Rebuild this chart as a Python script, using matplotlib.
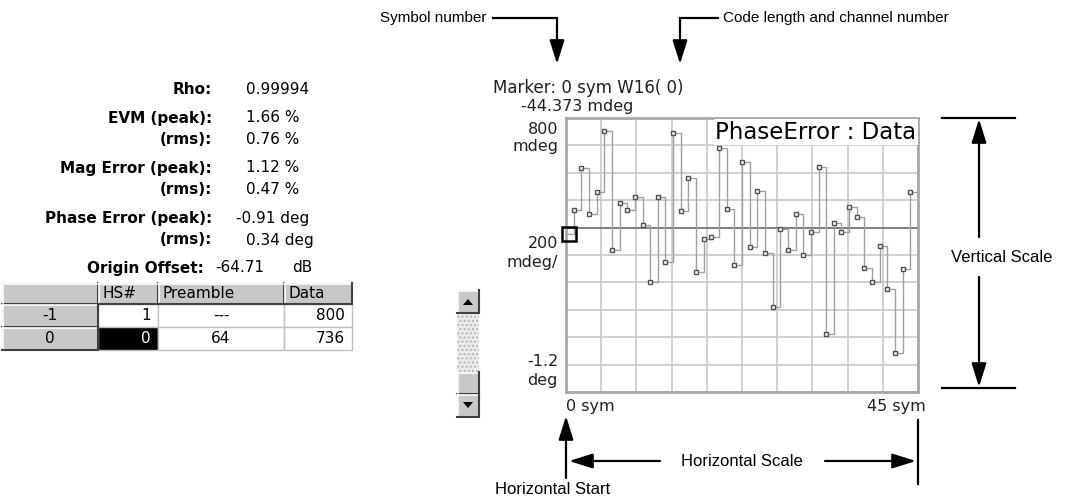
import numpy as np
import matplotlib.pyplot as plt
from matplotlib.patches import Rectangle, Polygon

# phase error per symbol, mdeg
symbols = np.arange(46)
phase_err = np.array([-44, 130, 438, 98, 257, 702, -166, 183, 130, 225,
                      17, -399, 225, -249, 690, 120, 364, -325, -81, -71,
                      584, 139, -271, 477, -144, 267, -186, -579, -10, -166,
                      98, -198, -29, 445, -780, 34, -29, 152, 78, -293,
                      -399, -134, -450, -917, -303, 257])

stat_labels = ['Rho:', 'EVM (peak):', '(rms):', 'Mag Error (peak):', '(rms):',
               'Phase Error (peak):', '(rms):']
stat_values = ['0.99994', '1.66 %', '0.76 %', '1.12 %', '0.47 %',
               '-0.91 deg', '0.34 deg']
origin_offset = '-64.71'

table_header = ['', 'HS#', 'Preamble', 'Data']
table_rows = [['-1', '1', '---', '800'],
              ['0', '0', '64', '736']]

W, H = 1066, 504
sans = ['Liberation Sans', 'DejaVu Sans']
ui = ['DejaVu Sans']


def button(ax, x0, y0, w, h, face='#c8c8c8'):
    ax.add_patch(Rectangle((x0, y0), w, h, fc=face, ec='none'))
    ax.plot([x0, x0 + w], [y0 + 0.5, y0 + 0.5], color='white', lw=1.2)
    ax.plot([x0 + 0.5, x0 + 0.5], [y0, y0 + h], color='white', lw=1.2)
    ax.plot([x0, x0 + w], [y0 + h - 0.5, y0 + h - 0.5], color='#404040', lw=1.5)
    ax.plot([x0 + w - 0.5, x0 + w - 0.5], [y0, y0 + h], color='#404040', lw=1.5)


def arrow(ax, tail, tip):
    ax.annotate('', xy=tip, xytext=tail,
                arrowprops=dict(arrowstyle='-|>,head_length=0.8,head_width=0.25',
                                mutation_scale=18, lw=1.6, color='black',
                                shrinkA=0, shrinkB=0))


fig = plt.figure(figsize=(W / 100, H / 100), dpi=100)

# overlay in pixel coords for the panel, labels and callouts
ov = fig.add_axes([0, 0, 1, 1])
ov.set_xlim(0, W)
ov.set_ylim(H, 0)
ov.axis('off')

# measurement summary
ys = [89, 118, 139, 168, 190, 219, 240]
for lab, val, y in zip(stat_labels, stat_values, ys):
    ov.text(212, y, lab, ha='right', va='center', fontsize=11,
            fontweight='bold', family=ui)
    xv = 236 if val.startswith('-') else 246
    ov.text(xv, y, val, ha='left', va='center', fontsize=11, family=ui)
ov.text(204, 268, 'Origin Offset:', ha='right', va='center', fontsize=11,
        fontweight='bold', family=ui)
ov.text(215, 268, origin_offset, ha='left', va='center', fontsize=11, family=ui)
ov.text(292, 268, 'dB', ha='left', va='center', fontsize=11, family=ui)

# table
col_x = [2, 98, 158, 284, 352]
row_y = [283, 304, 327, 350]
for j, txt in enumerate(table_header):
    button(ov, col_x[j], row_y[0], col_x[j + 1] - col_x[j], row_y[1] - row_y[0])
    ov.text(col_x[j] + 5, (row_y[0] + row_y[1]) / 2, txt, ha='left',
            va='center', fontsize=11, family=ui)
for i, row in enumerate(table_rows):
    y0, y1 = row_y[i + 1], row_y[i + 2]
    ym = (y0 + y1) / 2
    button(ov, col_x[0], y0, col_x[1] - col_x[0], y1 - y0)
    ov.text((col_x[0] + col_x[1]) / 2, ym, row[0], ha='center', va='center',
            fontsize=11, family=ui)
    for j in range(1, 4):
        sel = (i == 1 and j == 1)
        ov.add_patch(Rectangle((col_x[j], y0), col_x[j + 1] - col_x[j], y1 - y0,
                               fc='black' if sel else 'white', ec='#c0c0c0', lw=1))
        if j == 2:
            ov.text((col_x[j] + col_x[j + 1]) / 2, ym, row[j], ha='center',
                    va='center', fontsize=11, family=ui)
        else:
            ov.text(col_x[j + 1] - 7, ym, row[j], ha='right', va='center',
                    fontsize=11, family=ui, color='white' if sel else 'black')

# scroll bar
ov.add_patch(Rectangle((457, 313), 22, 59, fc='#ececec', ec='#b4b4b4', hatch='....',
                       lw=0))
button(ov, 457, 290, 22, 23)
button(ov, 457, 372, 22, 22)
button(ov, 457, 394, 22, 23)
ov.add_patch(Polygon([[463, 305], [473, 305], [468, 299]], closed=True, fc='black'))
ov.add_patch(Polygon([[463, 402], [473, 402], [468, 408]], closed=True, fc='black'))

# marker readout and axis labels
ov.text(493, 88, 'Marker: 0 sym W16( 0)', ha='left', va='center', fontsize=12,
        family=ui, color='#202020')
ov.text(521, 106, '-44.373 mdeg', ha='left', va='center', fontsize=11.5,
        family=ui, color='#202020')
for txt, y in [('800', 130), ('mdeg', 147), ('200', 244), ('mdeg/', 262),
               ('-1.2', 361), ('deg', 380)]:
    ov.text(558, y, txt, ha='right', va='center', fontsize=11.5, family=ui,
            color='#202020')
ov.text(566, 406, '0 sym', ha='left', va='center', fontsize=11.5, family=ui,
        color='#202020')
ov.text(926, 406, '45 sym', ha='right', va='center', fontsize=11.5, family=ui,
        color='#202020')

# callouts
ov.text(487, 18, 'Symbol number', ha='right', va='center', fontsize=11, family=sans)
ov.plot([493, 557], [18, 18], color='black', lw=1.6)
arrow(ov, (557, 18), (557, 64))
ov.text(723, 18, 'Code length and channel number', ha='left', va='center',
        fontsize=11, family=sans)
ov.plot([680, 718], [18, 18], color='black', lw=1.6)
arrow(ov, (680, 18), (680, 64))

ov.plot([942, 1015], [118, 118], color='black', lw=1.6)
ov.plot([942, 1015], [388, 388], color='black', lw=1.6)
arrow(ov, (979, 237), (979, 119))
arrow(ov, (979, 277), (979, 387))
ov.text(1002, 257, 'Vertical Scale', ha='center', va='center', fontsize=12,
        family=sans)

arrow(ov, (566, 478), (566, 416))
ov.text(553, 490, 'Horizontal Start', ha='center', va='center', fontsize=12,
        family=sans)
ov.plot([918, 918], [420, 484], color='black', lw=1.6)
arrow(ov, (660, 461), (569, 461))
arrow(ov, (825, 461), (916, 461))
ov.text(742, 461, 'Horizontal Scale', ha='center', va='center', fontsize=12,
        family=sans)

# trace
ax = fig.add_axes([566 / W, 1 - 392 / H, 352 / W, 274 / H])
ax.set_xlim(0, 46)
ax.set_ylim(-1200, 800)
ax.set_xticks(np.linspace(0, 46, 11))
ax.set_yticks(np.arange(-1200, 801, 200))
ax.grid(color='#c8c8c8', lw=1.2)
ax.tick_params(length=0, labelbottom=False, labelleft=False)
for s in ax.spines.values():
    s.set_color('#a8a8a8')
    s.set_linewidth(2)
ax.axhline(0, color='#7a7a7a', lw=1.3, zorder=2)
ax.step(np.append(symbols, 46), np.append(phase_err, phase_err[-1]), where='post',
        color='#a0a0a0', lw=1, zorder=3)
ax.plot(symbols[1:], phase_err[1:], ls='none', marker='s', ms=3.5, mfc='white',
        mec='#505050', mew=1, zorder=4)
ax.plot(symbols[0] + 0.4, phase_err[0], ls='none', marker='s', ms=10, mfc='none',
        mec='black', mew=1.8, clip_on=False, zorder=4)
ax.text(0.995, 0.99, 'PhaseError : Data', transform=ax.transAxes, ha='right',
        va='top', fontsize=16.5, family=ui,
        bbox=dict(fc='white', ec='none', pad=1), zorder=6)

fig.savefig('out.png', dpi=100)
